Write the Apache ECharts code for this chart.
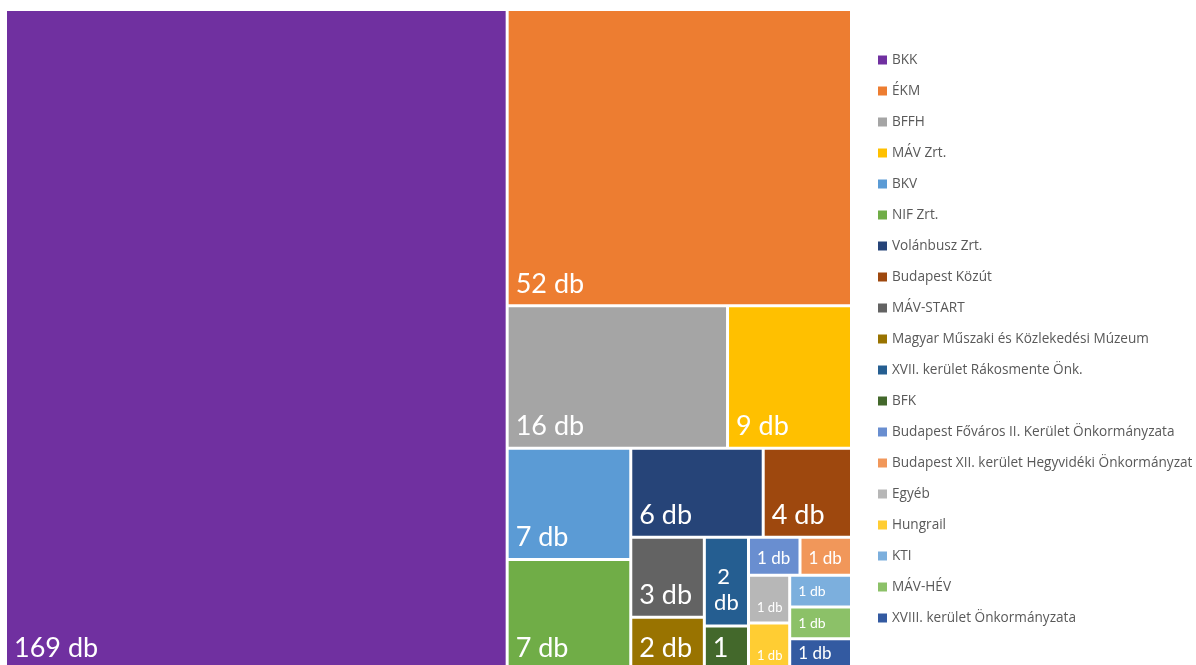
<!DOCTYPE html>
<html>
<head>
<meta charset="utf-8">
<script src="https://cdn.jsdelivr.net/npm/echarts@6/dist/echarts.min.js"></script>
<style>
  html, body { margin: 0; padding: 0; background: #fff; }
  #chart { width: 1196px; height: 665px; }
</style>
</head>
<body>
<div id="chart"></div>
<script>
// szervezetek és darabszámok
var names = [
  'BKK', 'ÉKM', 'BFFH', 'MÁV Zrt.', 'BKV', 'NIF Zrt.', 'Volánbusz Zrt.',
  'Budapest Közút', 'MÁV-START', 'Magyar Műszaki és Közlekedési Múzeum',
  'XVII. kerület Rákosmente Önk.', 'BFK',
  'Budapest Főváros II. Kerület Önkormányzata',
  'Budapest XII. kerület Hegyvidéki Önkormányzat',
  'Egyéb', 'Hungrail', 'KTI', 'MÁV-HÉV', 'XVIII. kerület Önkormányzata'
];
var counts = [169, 52, 16, 9, 7, 7, 6, 4, 3, 2, 2, 1, 1, 1, 1, 1, 1, 1, 1];
var colors = [
  '#7030A0', '#ED7D31', '#A5A5A5', '#FFC000', '#5B9BD5', '#70AD47', '#264478',
  '#9E480E', '#636363', '#997300', '#255E91', '#43682B', '#698ED0', '#F1975A',
  '#B7B7B7', '#FFCD33', '#7CAFDD', '#8CC168', '#335AA1'
];
var unit = ' db';

// a kis cellákban kisebb felirat kell
var labelFix = {
  'XVII. kerület Rákosmente Önk.': { fontSize: 22, position: 'insideBottom', align: 'center', overflow: 'break', lineHeight: 26, distance: 4 },
  'Budapest Főváros II. Kerület Önkormányzata': { fontSize: 17 },
  'Budapest XII. kerület Hegyvidéki Önkormányzat': { fontSize: 17 },
  'Egyéb': { fontSize: 13 },
  'Hungrail': { fontSize: 13 },
  'KTI': { fontSize: 14 },
  'MÁV-HÉV': { fontSize: 14 },
  'XVIII. kerület Önkormányzata': { fontSize: 17 }
};

var treeData = names.map(function (n, i) {
  var item = { name: n, value: counts[i], itemStyle: { color: colors[i] } };
  if (labelFix[n]) item.label = labelFix[n];
  return item;
});
var legendData = names.map(function (n, i) {
  return { name: n, value: counts[i], itemStyle: { color: colors[i] } };
});

var chart = echarts.init(document.getElementById('chart'));
chart.setOption({
  animation: false,
  legend: {
    orient: 'vertical',
    left: 873,
    top: 47,
    icon: 'rect',
    itemWidth: 9,
    itemHeight: 9,
    itemGap: 15,
    selectedMode: false,
    textStyle: { color: '#595959', fontSize: 13.6, lineHeight: 16, fontFamily: 'Open Sans' },
    data: names
  },
  series: [
    {
      type: 'pie',
      radius: [0, 0],
      silent: true,
      label: { show: false },
      data: legendData
    },
    {
      type: 'treemap',
      left: 7,
      top: 11,
      width: 843,
      height: 658,
      roam: false,
      nodeClick: false,
      sort: false,
      squareRatio: 0.9,
      breadcrumb: { show: false },
      itemStyle: { borderWidth: 0, gapWidth: 3 },
      levels: [
        { itemStyle: { borderWidth: 0, gapWidth: 3 } }
      ],
      label: {
        show: true,
        position: 'insideBottomLeft',
        distance: 2,
        color: '#fff',
        fontSize: 27,
        fontFamily: 'Lato',
        formatter: function (p) { return p.value + unit; }
      },
      data: treeData
    }
  ]
});
</script>
</body>
</html>
